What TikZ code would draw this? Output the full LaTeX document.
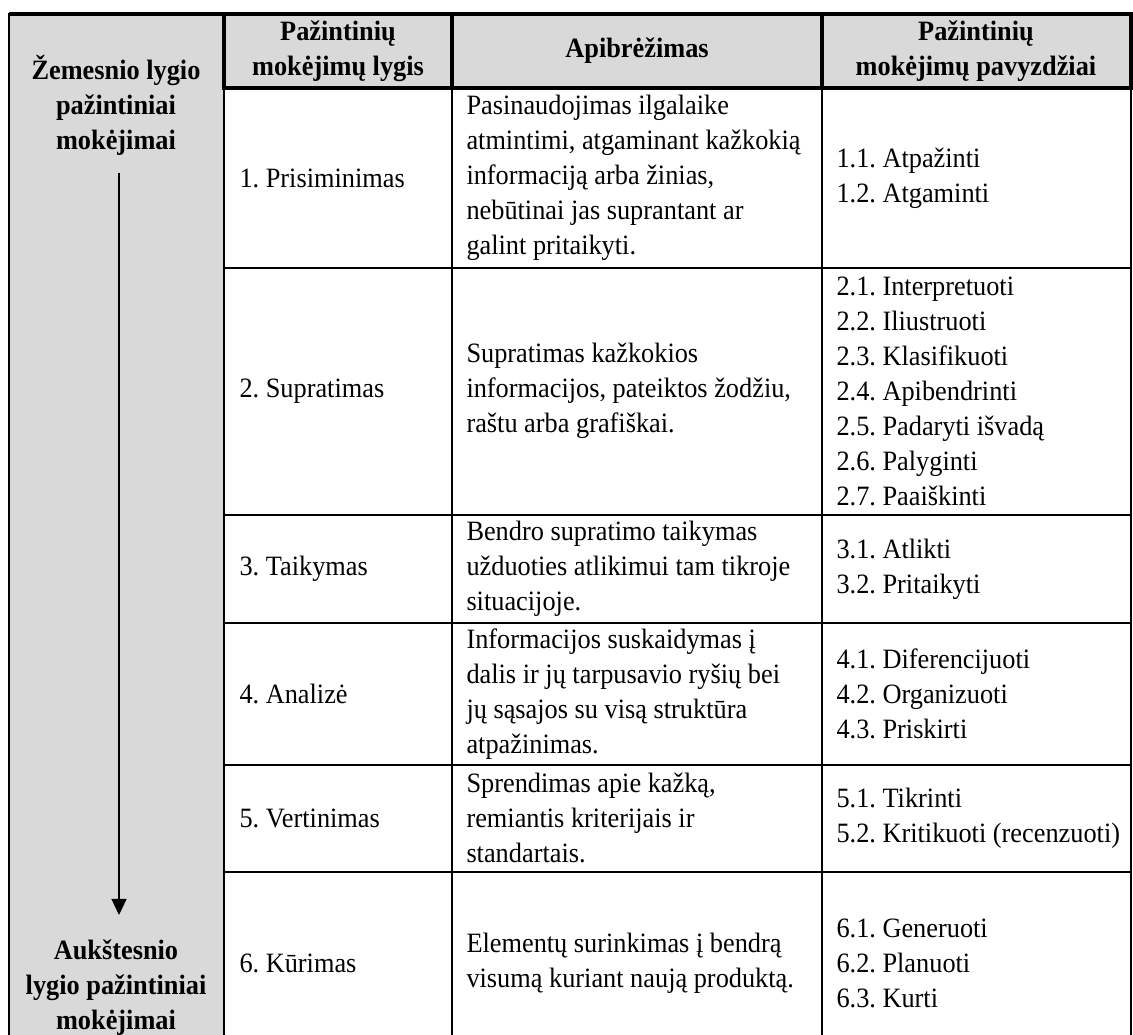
\documentclass[tikz,border=0pt]{standalone}
\usepackage{fontspec}
\setmainfont[FakeStretch=0.94]{Liberation Serif}
\usetikzlibrary{arrows.meta}
\definecolor{cellgray}{HTML}{D9D9D9}
\frenchspacing

\begin{document}
\begin{tikzpicture}[x=0.4pt,y=-0.4pt,
    txt/.style={inner sep=0pt,font=\fontsize{11.2}{14}\selectfont},
    lft/.style={txt,anchor=west,align=left},
    hdr/.style={inner sep=0pt,align=center,font=\fontsize{11.2}{14}\selectfont\bfseries},
    grid/.style={line width=1pt},
    thickgrid/.style={line width=1.6pt},
    levelarrow/.style={line width=0.8pt,-{Triangle[width=6pt,length=6.5pt]}}]
    \useasboundingbox(0,0)rectangle(1133,1034);
    % shaded cells
    \fill[cellgray](9,14)rectangle(224,1060);
    \fill[cellgray](224,14)rectangle(1131,88);
    % grid
    \draw[grid](9,14)rectangle(224,1060);
    \draw[grid](452,88)--(452,1060);
    \draw[grid](822,88)--(822,1060);
    \draw[grid](1131,88)--(1131,1060);
    \foreach \y in {268,515,623,765,872,1060}
        \draw[grid](224,\y)--(1131,\y);
    \draw[thickgrid](9,14)--(224,14);
    \draw[thickgrid](224,14)rectangle(1131,88);
    \draw[thickgrid](452,14)--(452,88);
    \draw[thickgrid](822,14)--(822,88);
    % header
    \node[hdr](hlevel)at(338, 51){Pažintinių\\mokėjimų lygis};
    \node[hdr](hdef)at(637, 51){Apibrėžimas};
    \node[hdr](hex)at(976, 51){Pažintinių\\mokėjimų pavyzdžiai};
    % left column
    \node[hdr](low)at(116, 105){Žemesnio lygio\\pažintiniai\\mokėjimai};
    \node[hdr](high)at(116, 988){Aukštesnio\\lygio pažintiniai\\mokėjimai};
    \coordinate(arrowtop)at(119, 173);
    \coordinate(arrowtip)at(119, 915);
    \draw[levelarrow](arrowtop)--(arrowtip);
    % levels
    \node[lft](l1)at(239, 178){1. Prisiminimas};
    \node[lft](l2)at(239, 391){2. Supratimas};
    \node[lft](l3)at(239, 569){3. Taikymas};
    \node[lft](l4)at(239, 694){4. Analizė};
    \node[lft](l5)at(239, 818){5. Vertinimas};
    \node[lft](l6)at(239, 963){6. Kūrimas};
    % definitions
    \node[lft](d1)at(466, 178){Pasinaudojimas ilgalaike\\atmintimi, atgaminant kažkokią\\informaciją arba žinias,\\nebūtinai jas suprantant ar\\galint pritaikyti.};
    \node[lft](d2)at(466, 391){Supratimas kažkokios\\informacijos, pateiktos žodžiu,\\raštu arba grafiškai.};
    \node[lft](d3)at(466, 569){Bendro supratimo taikymas\\užduoties atlikimui tam tikroje\\situacijoje.};
    \node[lft](d4)at(466, 694){Informacijos suskaidymas į\\dalis ir jų tarpusavio ryšių bei\\jų sąsajos su visą struktūra\\atpažinimas.};
    \node[lft](d5)at(466, 818){Sprendimas apie kažką,\\remiantis kriterijais ir\\standartais.};
    \node[lft](d6)at(466, 963){Elementų surinkimas į bendrą\\visumą kuriant naują produktą.};
    % examples
    \node[lft](e1)at(836, 178){1.1. Atpažinti\\1.2. Atgaminti};
    \node[lft](e2)at(836, 391){2.1. Interpretuoti\\2.2. Iliustruoti\\2.3. Klasifikuoti\\2.4. Apibendrinti\\2.5. Padaryti išvadą\\2.6. Palyginti\\2.7. Paaiškinti};
    \node[lft](e3)at(836, 569){3.1. Atlikti\\3.2. Pritaikyti};
    \node[lft](e4)at(836, 694){4.1. Diferencijuoti\\4.2. Organizuoti\\4.3. Priskirti};
    \node[lft](e5)at(836, 818){5.1. Tikrinti\\5.2. Kritikuoti (recenzuoti)};
    \node[lft](e6)at(836, 963){6.1. Generuoti\\6.2. Planuoti\\6.3. Kurti};
\end{tikzpicture}
\end{document}
